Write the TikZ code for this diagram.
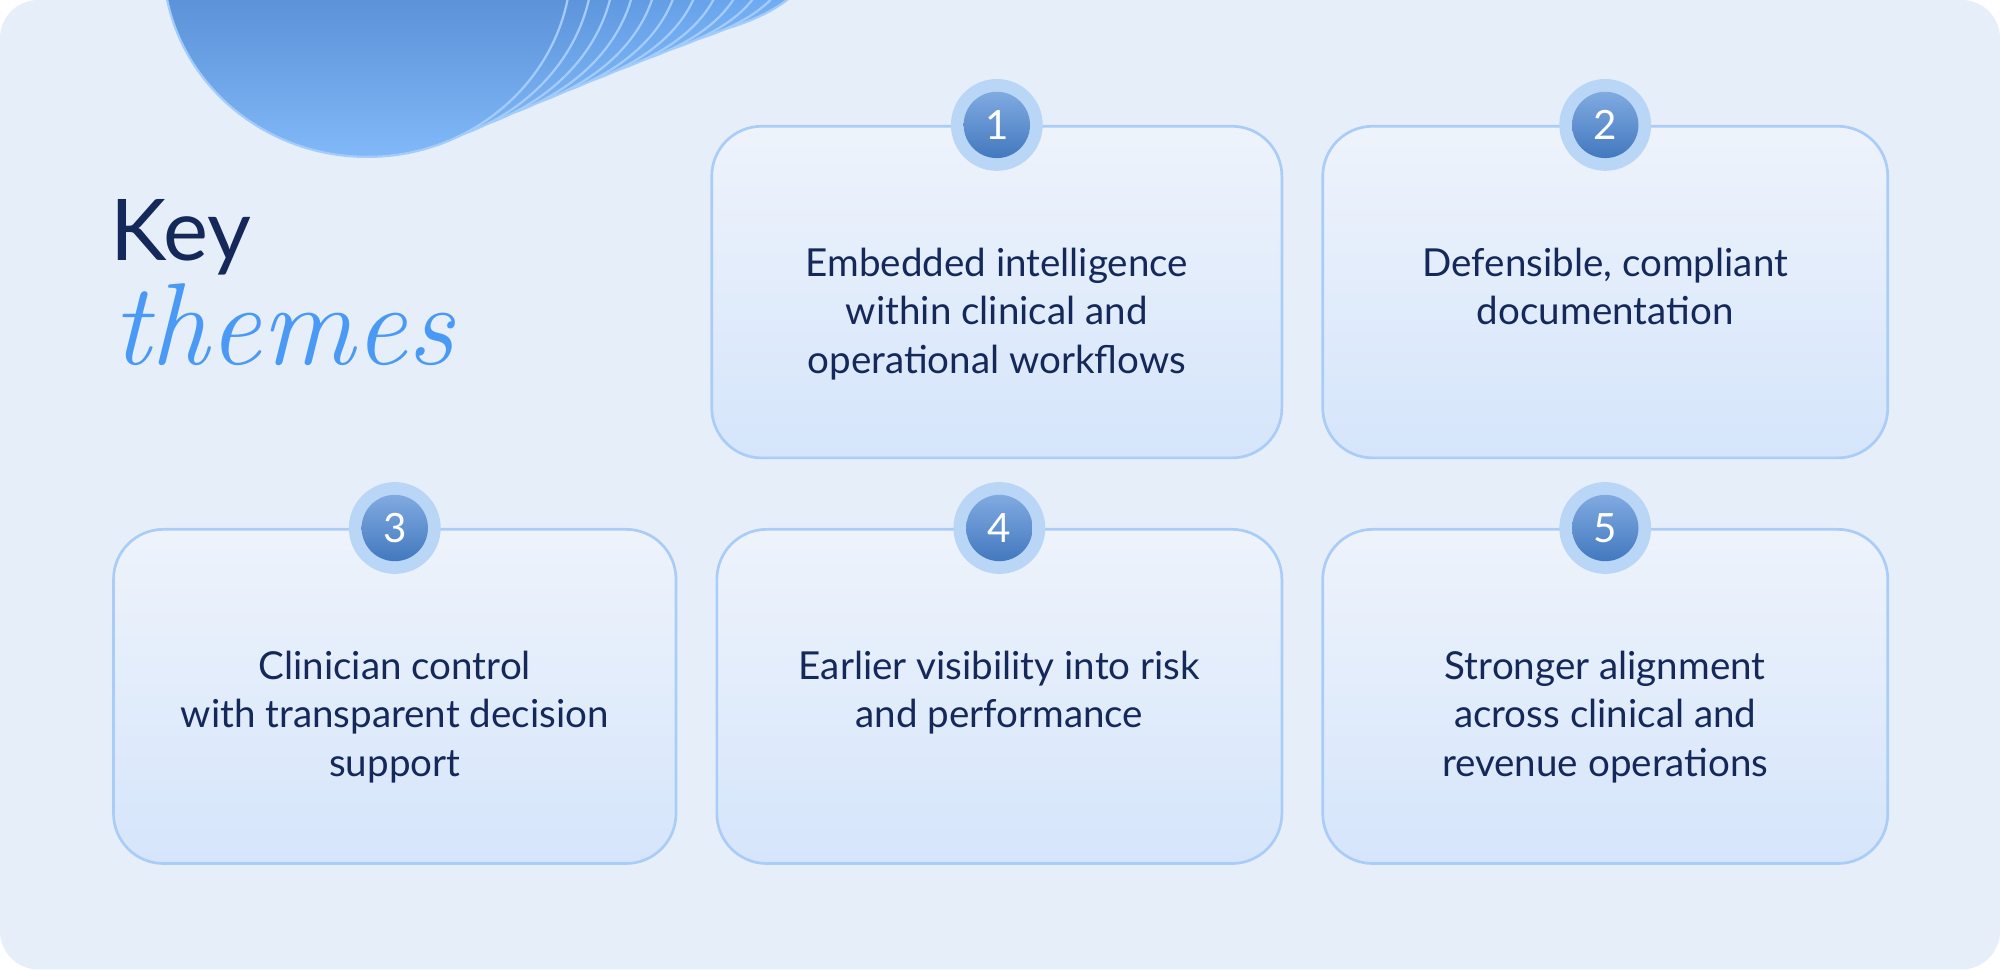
\documentclass[tikz,border=0pt]{standalone}
\usepackage{fontspec}
\setmainfont{Lato}
\usetikzlibrary{positioning}
\definecolor{bgblue}{HTML}{E6EFF9}
\definecolor{navy}{HTML}{14285A}
\definecolor{edgeblue}{HTML}{A9CDF7}
\definecolor{ringblue}{HTML}{B9D6F7}
\definecolor{dotblue}{HTML}{4A86D4}
\definecolor{skyblue}{HTML}{4A9AF5}
\definecolor{deepblue}{HTML}{1F4F9E}
\definecolor{cardtop}{HTML}{EEF3FB}
\definecolor{cardbot}{HTML}{D5E5FB}
\tikzset{
  card/.style={draw=edgeblue,line width=0.6pt,rounded corners=2.2ex,top color=cardtop,bottom color=cardbot,inner sep=0pt},
  ring/.style={circle,fill=ringblue,minimum size=0.72cm,inner sep=0pt},
  badge/.style={circle,inner sep=0pt,minimum size=0.52cm,top color=dotblue!70!white,bottom color=dotblue!90!black,text=white,font=\fontsize{9}{10}\selectfont},
  theme/.style={anchor=north,align=center,text=navy,font=\fontsize{8.6}{10.8}\selectfont},
  petal/.style={draw=white!50!skyblue,line width=0.5pt}
}
\begin{document}
\begin{tikzpicture}
  \useasboundingbox (0,0) rectangle (15.68,-7.60);
  \fill[bgblue,rounded corners=0.3cm] (0,0) rectangle (15.68,-7.60);

  % swirl
  \begin{scope}
    \clip[rounded corners=0.3cm] (0,0) rectangle (15.68,-7.60);
    \foreach \i in {0,...,11}{
      \pgfmathsetmacro{\mix}{20+6*\i}
      \draw[petal,top color=deepblue!\mix!skyblue,bottom color=skyblue!70!white]
        (4.75-0.17*\i,0.3) ellipse (1.6 and {0.65+0.08*\i});
    }
  \end{scope}

  % title
  \node[anchor=base west,text=navy,font=\fontsize{19}{22}\selectfont] (key) at (0.74,-2.04) {Key};
  \node[anchor=base west,text=skyblue,font=\fontsize{26}{30}\selectfont\fontspec{Latin Modern Roman}\itshape] (themes) at (0.76,-2.86) {themes};

  % cards
  \node[card,minimum width=4.47cm,minimum height=2.60cm] (c1) at (7.815,-2.29) {};
  \node[card,minimum width=4.43cm,minimum height=2.60cm] (c2) at (12.585,-2.29) {};
  \node[card,minimum width=4.41cm,minimum height=2.62cm] (c3) at (3.095,-5.46) {};
  \node[card,minimum width=4.43cm,minimum height=2.62cm] (c4) at (7.835,-5.46) {};
  \node[card,minimum width=4.43cm,minimum height=2.62cm] (c5) at (12.585,-5.46) {};

  % badges and texts
  \foreach \c/\n in {c1/1,c2/2,c3/3,c4/4,c5/5}{
    \node[ring] (r\n) at (\c.north) {};
    \node[badge] (b\n) at (\c.north) {\n};
  }
  \node[theme,below=0.84cm of c1.north] (t1) {Embedded intelligence\\within clinical and\\operational workflows};
  \node[theme,below=0.84cm of c2.north] (t2) {Defensible, compliant\\documentation};
  \node[theme,below=0.84cm of c3.north] (t3) {Clinician control\\with transparent decision\\support};
  \node[theme,below=0.84cm of c4.north] (t4) {Earlier visibility into risk\\and performance};
  \node[theme,below=0.84cm of c5.north] (t5) {Stronger alignment\\across clinical and\\revenue operations};
\end{tikzpicture}
\end{document}
